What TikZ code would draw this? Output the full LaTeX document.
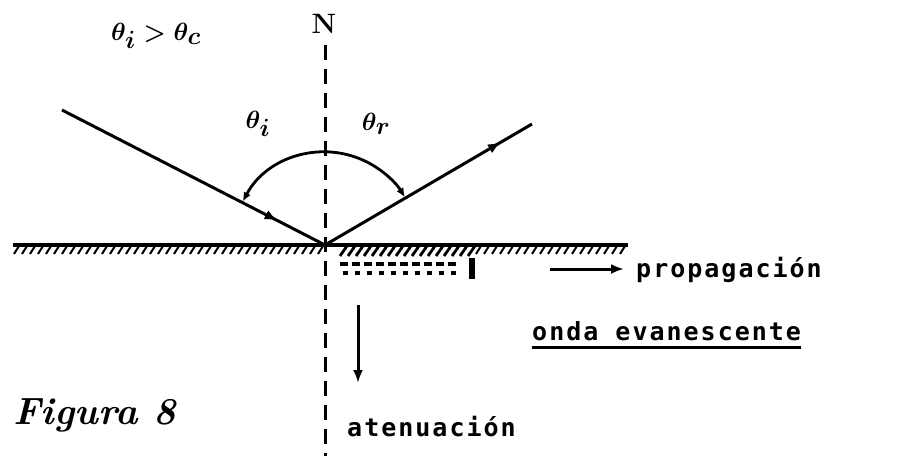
\documentclass[tikz,border=0pt]{standalone}
\usepackage{fontspec}
\newfontfamily\labelfont[LetterSpace=8]{DejaVu Sans Mono}
\usetikzlibrary{arrows.meta,decorations.markings}

\tikzset{
  ray/.style={line width=3pt},
  normalline/.style={line width=3pt, dash pattern=on 15pt off 9pt},
  hatch/.style={line width=2pt},
  midarrow/.style={postaction={decorate},
    decoration={markings, mark=at position #1 with {\arrow{Latex[length=13pt,width=10pt]}}}},
  txt/.style={font=\labelfont\bfseries\fontsize{25}{25}\selectfont, inner sep=0pt},
  hand/.style={font=\boldmath\fontsize{34}{34}\selectfont, inner sep=0pt},
}

\begin{document}
\begin{tikzpicture}[x=1pt,y=1pt]
\useasboundingbox (0,0) rectangle (898,-456);

\coordinate (O) at (325,-245);
\coordinate (src) at (62,-110);
\coordinate (dst) at (532,-124);
\coordinate (ntop) at (325,-45);
\coordinate (nbot) at (325,-456);
\coordinate (sl) at (13,-245);
\coordinate (sr) at (628,-245);

\node[inner sep=0pt, font=\bfseries\fontsize{28}{28}\selectfont] (N) at (324,-24) {N};
\draw[normalline] (ntop) -- (nbot);

% superficie
\draw[line width=3.2pt] (sl) -- (sr);
\foreach \x in {14,22,...,318} \draw[hatch] (\x,-254) -- ++(5,8);
\foreach \x in {340,348,...,468} \draw[line width=2.8pt] (\x,-256) -- ++(7,10);
\foreach \x in {476,484,...,620} \draw[hatch] (\x,-254) -- ++(5,8);

% onda evanescente
\foreach \x in {340,352,...,448} {
  \draw[line width=3.6pt] (\x,-264) -- ++(8,0);
  \draw[line width=3.6pt] (\x+3,-273) -- ++(5,0);
}
\draw[line width=6pt] (472,-258) -- (472,-279);

% rayos
\draw[ray, midarrow=0.82] (src) -- (O);
\draw[ray, midarrow=0.85] (O) -- (dst);
\draw[line width=2.8pt, {Latex[length=9pt,width=8pt]}-{Latex[length=9pt,width=8pt]}]
  ([shift={(152:93)}]O) arc[start angle=152, end angle=31, radius=93];

\node[hand] (ti) at (258,-124) {$\theta_i$};
\node[hand] (tr) at (376,-124) {$\theta_r$};
\node[hand, font=\boldmath\fontsize{38}{38}\selectfont] (cond) at (156,-36) {$\theta_i > \theta_c$};

\node[txt, anchor=base west] (prop) at (636,-277) {propagación};
\coordinate (pa) at (550,-269);
\draw[ray, -{Latex[length=13pt,width=10pt]}, shorten >=12pt] (pa) -- (prop.west |- pa);

\node[txt, anchor=base west] (onda) at (532,-340) {onda evanescente};
\draw[line width=2.4pt] ([yshift=-7pt]onda.south west) -- ([yshift=-7pt]onda.south east);

\coordinate (da) at (358,-305);
\coordinate (db) at (358,-383);
\draw[ray, -{Latex[length=13pt,width=10pt]}] (da) -- (db);
\node[txt, anchor=base west] (aten) at (347,-436) {atenuación};

\node[inner sep=0pt, anchor=base west, font=\bfseries\itshape\fontsize{38}{38}\selectfont] (fig) at (13,-424) {Figura 8};
\end{tikzpicture}
\end{document}
